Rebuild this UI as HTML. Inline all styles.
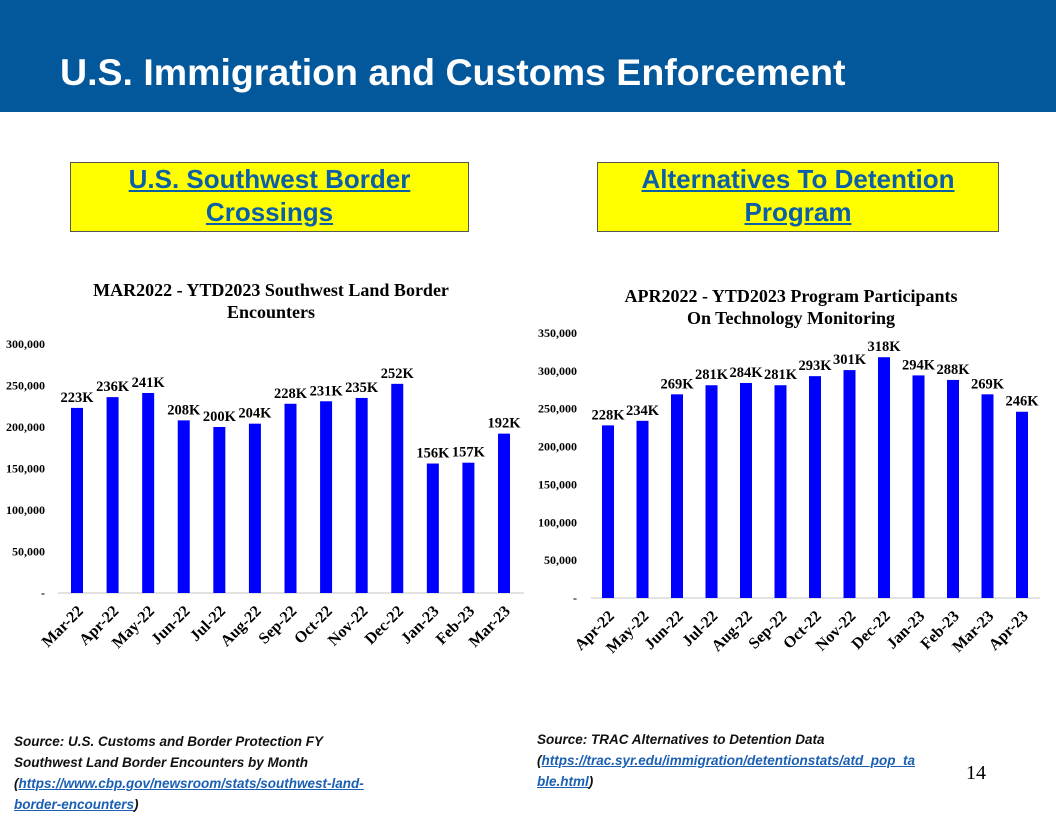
<!DOCTYPE html>
<html><head><meta charset="utf-8"><style>
body{margin:0;width:1056px;height:816px;position:relative;background:#fff;overflow:hidden;font-family:"Liberation Sans",sans-serif}
.hdr{position:absolute;left:0;top:0;width:1056px;height:112px;background:#03579b}
.hdr h1{position:absolute;left:60px;top:51px;margin:0;color:#fff;font-size:37.5px;font-weight:bold}
.ybox{position:absolute;top:162px;height:68px;background:#ffff00;border:1px solid #555;text-align:center;color:#0b5fa8;font-weight:bold;font-size:26px;line-height:33px;text-decoration:underline}
.src{position:absolute;font-size:13.5px;font-style:italic;font-weight:bold;line-height:21px;color:#111}
.src a{color:#1a5fb4;text-decoration:underline}
svg text{font-family:"Liberation Serif",serif;font-weight:bold}
</style></head><body>
<div class="hdr"><h1>U.S. Immigration and Customs Enforcement</h1></div>
<div class="ybox" style="left:70px;width:397px">U.S. Southwest Border<br>Crossings</div>
<div class="ybox" style="left:597px;width:400px">Alternatives To Detention<br>Program</div>
<svg id="c" width="1056" height="816" style="position:absolute;left:0;top:0"></svg>
<div class="src" style="left:14px;top:731px;width:375px">Source: U.S. Customs and Border Protection FY Southwest Land Border Encounters by Month (<a>https://www.cbp.gov/newsroom/stats/southwest-land-border-encounters</a>)</div>
<div class="src" style="left:537px;top:729px;width:420px">Source: TRAC Alternatives to Detention Data<br>(<a>https://trac.syr.edu/immigration/detentionstats/atd_pop_ta<br>ble.html</a>)</div>
<div style="position:absolute;left:966px;top:762px;font-family:'Liberation Serif',serif;font-size:20px">14</div>
<script>
const leftCats=["Mar-22","Apr-22","May-22","Jun-22","Jul-22","Aug-22","Sep-22","Oct-22","Nov-22","Dec-22","Jan-23","Feb-23","Mar-23"];
const leftVals=[223000,236000,241000,208000,200000,204000,228000,231000,235000,252000,156000,157000,192000];
const leftTicks=[0,50000,100000,150000,200000,250000,300000];
const rightCats=["Apr-22","May-22","Jun-22","Jul-22","Aug-22","Sep-22","Oct-22","Nov-22","Dec-22","Jan-23","Feb-23","Mar-23","Apr-23"];
const rightVals=[228000,234000,269000,281000,284000,281000,293000,301000,318000,294000,288000,269000,246000];
const rightTicks=[0,50000,100000,150000,200000,250000,300000,350000];
const svg=document.getElementById('c');
const NS="http://www.w3.org/2000/svg";
function mk(t,a,txt){const e=document.createElementNS(NS,t);for(const k in a)e.setAttribute(k,a[k]);if(txt!==undefined)e.textContent=txt;svg.appendChild(e);return e;}
function fmt(v){return v===0?'-':v.toLocaleString('en-US');}
function chart(o){
  const y=v=>o.y0-(v/o.max)*(o.y0-o.ytop);
  const step=(o.xlast-o.xfirst)/(o.cats.length-1);
  const x=i=>o.xfirst+i*step;
  let a=mk('line',{x1:o.ax0,x2:o.ax1,y1:o.y0,y2:o.y0,stroke:'#d9d9d9','stroke-width':1.5});
  
  o.ticks.forEach(t=>{const e=mk('text',{x:o.tx,y:y(t)+4,'text-anchor':'end','font-size':12},fmt(t));
    });
  o.cats.forEach((c,i)=>{
    const b=mk('rect',{x:x(i)-6,y:y(o.vals[i]),width:12,height:o.y0-y(o.vals[i]),fill:'#0000ff'});
    
    const l=mk('text',{x:x(i),y:y(o.vals[i])-6,'text-anchor':'middle','font-size':14.5},Math.round(o.vals[i]/1000)+'K');
    
    const lx=x(i)+7, ly=o.y0+19;
    const xl=mk('text',{x:lx,y:ly,'text-anchor':'end','font-size':16,transform:`rotate(-45 ${lx} ${ly})`},c);
    
  });
  o.title.forEach((t,k)=>{const e=mk('text',{x:o.tcx,y:o.ty+k*22,'text-anchor':'middle','font-size':18},t);
    });
}
chart({id:'encounters',cats:leftCats,vals:leftVals,ticks:leftTicks,max:300000,y0:593,ytop:344,xfirst:77,xlast:504,ax0:58,ax1:524,tx:45,
  title:["MAR2022 - YTD2023 Southwest Land Border","Encounters"],tcx:271,ty:296});
chart({id:'atd',cats:rightCats,vals:rightVals,ticks:rightTicks,max:350000,y0:598,ytop:333,xfirst:608,xlast:1022,ax0:591,ax1:1040,tx:577,
  title:["APR2022 - YTD2023 Program Participants","On Technology Monitoring"],tcx:791,ty:302});
</script>
</body></html>
